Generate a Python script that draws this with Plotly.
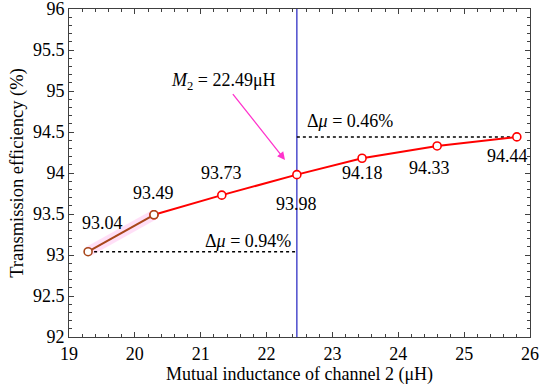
import plotly.graph_objects as go

mutual = [19.29, 20.29, 21.32, 22.46, 23.45, 24.59, 25.80]
eff = [93.04, 93.49, 93.73, 93.98, 94.18, 94.33, 94.44]
labels = ["93.04", "93.49", "93.73", "93.98", "94.18", "94.33", "94.44"]
m2_x = 22.46
m2_text = "<i>M</i><sub>2</sub> = 22.49μH"
delta_low = "Δ<i>μ</i> = 0.94%"
delta_high = "Δ<i>μ</i> = 0.46%"

FONT = "Liberation Serif"
red = "#FF0000"
brown = "#A8461A"

fig = go.Figure()

fig.add_trace(go.Scatter(x=mutual[:2], y=eff[:2], mode="lines",
                         line=dict(color="rgba(255,150,230,0.3)", width=10),
                         hoverinfo="skip", showlegend=False))
fig.add_trace(go.Scatter(x=[m2_x, m2_x], y=[92, 96], mode="lines",
                         line=dict(color="#2020C0", width=1.2), showlegend=False))
fig.add_trace(go.Scatter(x=[mutual[0], m2_x], y=[eff[0], eff[0]], mode="lines",
                         line=dict(color="black", width=1.5, dash="dot"), showlegend=False))
fig.add_trace(go.Scatter(x=[m2_x, mutual[-1]], y=[eff[-1], eff[-1]], mode="lines",
                         line=dict(color="black", width=1.5, dash="dot"), showlegend=False))
fig.add_trace(go.Scatter(x=mutual[1:], y=eff[1:], mode="lines+markers",
                         line=dict(color=red, width=2),
                         marker=dict(symbol="circle", size=8, color="white",
                                     line=dict(color=red, width=1.6)),
                         showlegend=False))
fig.add_trace(go.Scatter(x=mutual[:2], y=eff[:2], mode="lines+markers",
                         line=dict(color=brown, width=2),
                         marker=dict(symbol="circle", size=8, color="white",
                                     line=dict(color=brown, width=1.6)),
                         showlegend=False))

shifts = [(14, 29), (0, 22), (0, 22), (0, -29), (0, -15), (-8, -22), (-9, -19)]
for x, y, t, (dx, dy) in zip(mutual, eff, labels, shifts):
    fig.add_annotation(x=x, y=y, text=t, showarrow=False, xshift=dx, yshift=dy,
                       font=dict(family=FONT, size=18, color="black"))

fig.add_annotation(x=21.72, y=93.17, text=delta_low, showarrow=False,
                   font=dict(family=FONT, size=18, color="black"))
fig.add_annotation(x=23.27, y=94.63, text=delta_high, showarrow=False,
                   font=dict(family=FONT, size=18, color="black"))
fig.add_annotation(x=21.34, y=95.11, text=m2_text, showarrow=False,
                   font=dict(family=FONT, size=18, color="black"))
fig.add_annotation(x=22.28, y=94.16, ax=21.47, ay=94.98, axref="x", ayref="y",
                   xref="x", yref="y", text="", showarrow=True,
                   arrowhead=2, arrowsize=1.2, arrowwidth=1.3, arrowcolor="#FF33CC")

axis_common = dict(showline=True, linecolor="#404040", linewidth=1, mirror="allticks",
                   ticks="inside", ticklen=5, tickcolor="#404040", showgrid=False,
                   zeroline=False, automargin=False, ticklabeloverflow="allow",
                   tickfont=dict(family=FONT, size=18, color="black"))
fig.update_xaxes(range=[19, 26], dtick=1,
                 minor=dict(dtick=0.2, ticks="inside", ticklen=3, tickcolor="#404040"),
                 title=dict(text="Mutual inductance of channel 2 (μH)", standoff=0,
                            font=dict(family=FONT, size=18, color="black")),
                 **axis_common)
fig.update_yaxes(range=[92, 96], dtick=0.5,
                 minor=dict(dtick=0.1, ticks="inside", ticklen=3, tickcolor="#404040"),
                 title=dict(text="Transmission efficiency (%)", standoff=4,
                            font=dict(family=FONT, size=18.5, color="black")),
                 **axis_common)

fig.update_layout(width=550, height=390, margin=dict(l=69, r=20, t=9, b=53),
                  plot_bgcolor="white", paper_bgcolor="white", showlegend=False)

fig.write_html("out.html", config={"displayModeBar": False},
               post_script="document.body.style.margin='0';document.body.style.overflow='hidden';")
